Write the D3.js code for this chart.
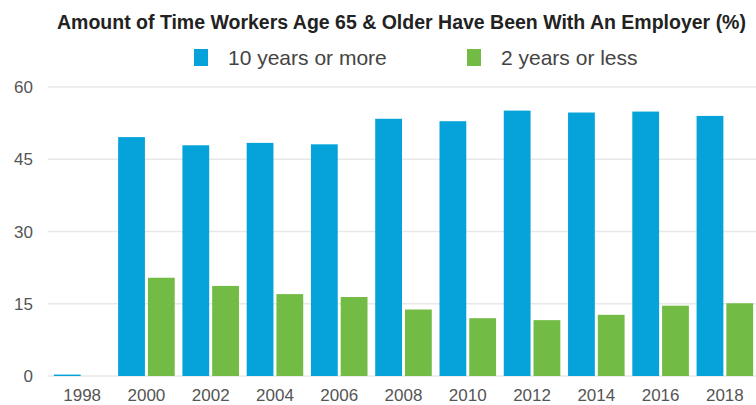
<!DOCTYPE html>
<html>
<head>
<meta charset="utf-8">
<script src="https://cdn.jsdelivr.net/npm/d3@7"></script>
<style>
	body { margin: 0; background: white; }
	svg text { font-family: 'Liberation Sans', Arial, sans-serif; }
</style>
</head>
<body>
<div></div>
<script>
var years = ['1998', '2000', '2002', '2004', '2006', '2008', '2010', '2012', '2014', '2016', '2018'];
var ten_plus = [0.3, 49.6, 47.9, 48.4, 48.1, 53.4, 52.9, 55.1, 54.7, 54.9, 54.0];
var two_less = [0, 20.4, 18.7, 17.0, 16.4, 13.8, 12.0, 11.6, 12.7, 14.6, 15.1];
var series = ['10 years or more', '2 years or less'];
var y_ticks = [0, 15, 30, 45, 60];

function draw_chart() {
	var width = 756;
	var height = 405;

	var svg = d3.select('div')
		.append('svg')
			.attr('width', width)
			.attr('height', height);

	var color = d3.scaleOrdinal()
		.domain(series)
		.range(['#05a3d9', '#72bb44']);

	var data = years.map(function(d, i) {
		return {year: d, values: [ten_plus[i], two_less[i]]};
	});

	// title
	svg.append('text')
		.attr('x', 57)
		.attr('y', 29)
		.text('Amount of Time Workers Age 65 & Older Have Been With An Employer (%)')
		.style('font-weight', 'bold')
		.style('font-size', '19.5px')
		.style('fill', '#222');

	// legend
	var legend = svg.selectAll('.legend')
		.data(series)
		.enter()
		.append('g')
			.attr('class', 'legend')
			.attr('transform', function(d, i) { return 'translate(' + [194, 467][i] + ',49)'; });
	legend.append('rect')
		.attr('width', 14)
		.attr('height', 17)
		.style('fill', function(d) { return color(d); });
	legend.append('text')
		.attr('x', 34)
		.attr('y', 16)
		.text(function(d) { return d; })
		.style('font-size', '21px')
		.style('fill', '#444');

	// scales
	var y = d3.scaleLinear()
		.domain([0, 60])
		.range([376, 87]);

	var x0 = d3.scaleBand()
		.domain(years)
		.range([50, 757])
		.paddingInner(0.12)
		.paddingOuter(0.06);

	var x1 = d3.scaleBand()
		.domain([0, 1])
		.range([0, x0.bandwidth()])
		.paddingInner(0.1);

	// grid
	svg.append('g')
		.selectAll('line')
		.data(y_ticks)
		.enter()
		.append('line')
			.attr('x1', 48)
			.attr('x2', width)
			.attr('y1', function(d) { return y(d); })
			.attr('y2', function(d) { return y(d); })
			.style('stroke', '#e8e8e8')
			.style('stroke-width', 1.5);

	// y axis labels
	svg.append('g')
		.selectAll('text')
		.data(y_ticks)
		.enter()
		.append('text')
			.attr('x', 33)
			.attr('y', function(d) { return y(d) + 6; })
			.attr('text-anchor', 'end')
			.text(function(d) { return d; })
			.style('font-size', '17px')
			.style('fill', '#555');

	// bars
	svg.append('g')
		.selectAll('g')
		.data(data)
		.enter()
		.append('g')
			.attr('transform', function(d) { return 'translate(' + x0(d.year) + ',0)'; })
		.selectAll('rect')
		.data(function(d) { return d.values; })
		.enter()
		.append('rect')
			.attr('x', function(d, i) { return x1(i); })
			.attr('y', function(d) { return y(d); })
			.attr('width', x1.bandwidth())
			.attr('height', function(d) { return y(0) - y(d); })
			.style('fill', function(d, i) { return color(series[i]); });

	// x axis labels
	var x_axis = svg.append('g')
		.attr('transform', 'translate(0,389)')
		.call(d3.axisBottom(x0).tickSize(0).tickPadding(0));
	x_axis.select('.domain').remove();
	x_axis.selectAll('text')
		.attr('dy', '0.71em')
		.style('font-family', "'Liberation Sans', Arial, sans-serif")
		.style('font-size', '17px')
		.style('fill', '#555');
}

draw_chart();
</script>
</body>
</html>
